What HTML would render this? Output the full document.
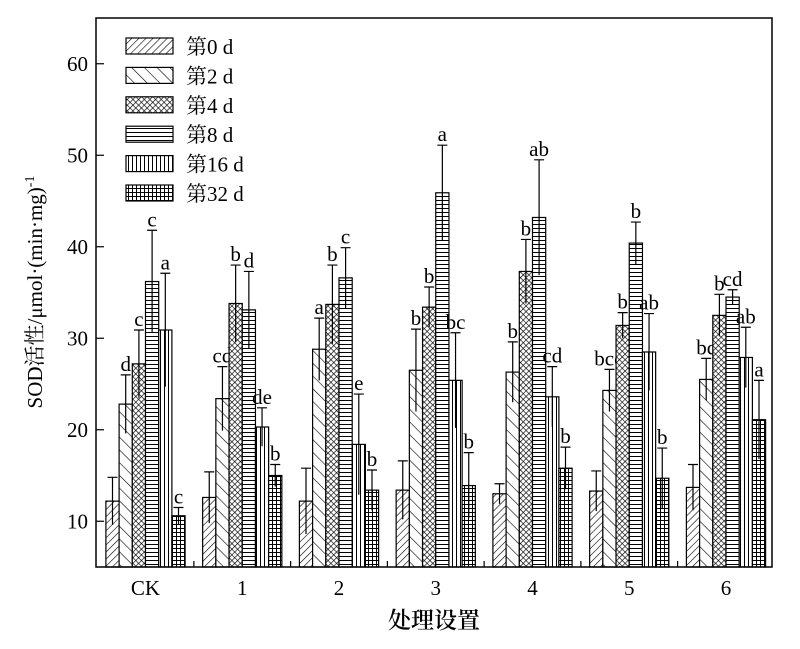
<!DOCTYPE html>
<html><head><meta charset="utf-8"><style>body{margin:0;background:#fff}svg{display:block}text{font-family:"Liberation Serif","Noto Serif CJK SC",serif;fill:#000}</style></head>
<body>
<svg id="c" width="800" height="649" viewBox="0 0 800 649" xmlns="http://www.w3.org/2000/svg">
<defs>
<pattern id="p0" width="5" height="5" patternUnits="userSpaceOnUse" patternTransform="rotate(45)"><rect width="5" height="5" fill="#fff"/><line x1="0" y1="0" x2="0" y2="5" stroke="#000" stroke-width="1.2"/></pattern>
<pattern id="p1" width="9" height="9" patternUnits="userSpaceOnUse" patternTransform="rotate(-45)"><rect width="9" height="9" fill="#fff"/><line x1="0" y1="0" x2="0" y2="9" stroke="#000" stroke-width="1.2"/></pattern>
<pattern id="p2" width="4" height="4" patternUnits="userSpaceOnUse" patternTransform="rotate(45)"><rect width="4" height="4" fill="#fff"/><line x1="0" y1="0" x2="0" y2="4" stroke="#000" stroke-width="1.3"/><line x1="0" y1="0" x2="4" y2="0" stroke="#000" stroke-width="1.3"/></pattern>
<pattern id="p3" width="4" height="4" patternUnits="userSpaceOnUse"><rect width="4" height="4" fill="#fff"/><line x1="0" y1="0.5" x2="4" y2="0.5" stroke="#000" stroke-width="1"/></pattern>
<pattern id="p4" width="4" height="4" patternUnits="userSpaceOnUse"><rect width="4" height="4" fill="#fff"/><line x1="0.5" y1="0" x2="0.5" y2="4" stroke="#000" stroke-width="1"/></pattern>
<pattern id="p5" width="4" height="4" patternUnits="userSpaceOnUse"><rect width="4" height="4" fill="#fff"/><line x1="0.5" y1="0" x2="0.5" y2="4" stroke="#000" stroke-width="1"/><line x1="0" y1="0.5" x2="4" y2="0.5" stroke="#000" stroke-width="1"/></pattern>
</defs>
<g id="g"></g>
</svg>
<script>
const categories=["CK","1","2","3","4","5","6"];
const seriesNames=["第0 d","第2 d","第4 d","第8 d","第16 d","第32 d"];
const d0=[12.2,12.6,12.2,13.4,13.0,13.3,13.7];
const d2=[22.8,23.4,28.8,26.5,26.3,24.3,25.5];
const d4=[27.2,33.8,33.7,33.4,37.3,31.4,32.5];
const d8=[36.2,33.1,36.6,45.9,43.2,40.4,34.5];
const d16=[30.9,20.3,18.4,25.4,23.6,28.5,27.9];
const d32=[10.6,15.0,13.4,13.9,15.8,14.7,21.1];
const e0=[2.6,2.8,3.6,3.2,1.1,2.2,2.5];
const e2=[3.2,3.5,3.4,4.5,3.3,2.3,2.3];
const e4=[3.7,4.2,4.3,2.2,3.5,1.4,2.3];
const e8=[5.6,4.2,3.3,5.2,6.3,2.3,0.8];
const e16=[6.2,2.1,5.5,5.2,3.3,4.2,3.3];
const e32=[0.9,1.2,2.2,3.6,2.3,3.3,4.3];
const l2=["d","cd","a","b","b","bcd","bc"];
const l4=["c","b","b","b","b","b","b"];
const l8=["c","d","c","a","ab","b","cd"];
const l16=["a","de","e","bc","cd","ab","ab"];
const l32=["c","b","b","b","b","b","a"];
const yTicks=[10,20,30,40,50,60];
const vals=[d0,d2,d4,d8,d16,d32], errs=[e0,e2,e4,e8,e16,e32], labs=[null,l2,l4,l8,l16,l32];
const NS="http://www.w3.org/2000/svg", g=document.getElementById('g');
const L=96,R=772,T=18,B=567,ymin=5,ymax=65;
const y=v=>B-(v-ymin)/(ymax-ymin)*(B-T);
const bw=13.2, gx=i=>145.5+i*96.75;
function mk(t,a,p){const e=document.createElementNS(NS,t);for(const k in a)e.setAttribute(k,a[k]);(p||g).appendChild(e);return e;}
categories.forEach((c,i)=>{
  const x0=gx(i)-bw*3;
  vals.forEach((s,j)=>{
    const x=x0+j*bw,v=s[i],er=errs[j][i];
    const r=mk('rect',{x:x,y:y(v),width:bw,height:B-y(v),fill:`url(#p${j})`,stroke:'#000','stroke-width':1.2});
    
    
    const cx=x+bw/2;
    const eb=mk('path',{d:`M${cx},${y(v-er)}V${y(v+er)}M${cx-5},${y(v+er)}H${cx+5}`,stroke:'#000','stroke-width':1.2,fill:'none'});
    
    
    if(labs[j]){const t=mk('text',{x:cx,y:y(v+er)-4,'text-anchor':'middle','font-size':21});t.textContent=labs[j][i];
      
      }
  });
  const t=mk('text',{x:gx(i),y:595,'text-anchor':'middle','font-size':21});t.textContent=c;
  
  
  if(i<categories.length-1){const tk=mk('line',{x1:(gx(i)+gx(i+1))/2,x2:(gx(i)+gx(i+1))/2,y1:B,y2:B-6,stroke:'#000','stroke-width':1.2});
    
    }
});
yTicks.forEach(v=>{
  const tk=mk('line',{x1:L,x2:L+8,y1:y(v),y2:y(v),stroke:'#000','stroke-width':1.2});
  
  
  const t=mk('text',{x:L-8,y:y(v)+7,'text-anchor':'end','font-size':21});t.textContent=v;
  
  
});
const fr=mk('rect',{x:L,y:T,width:R-L,height:B-T,fill:'none',stroke:'#000','stroke-width':1.5});


seriesNames.forEach((n,j)=>{
  const yy=38+j*29.4;
  const r=mk('rect',{x:126,y:yy,width:47,height:16,fill:`url(#p${j})`,stroke:'#000','stroke-width':1.2});
  
  
  const t=mk('text',{x:186,y:yy+16,'font-size':21});t.textContent=n;
  
  
});
const xt=mk('text',{x:434,y:628,'text-anchor':'middle','font-size':23,'font-weight':600});xt.textContent="处理设置";


const yt=mk('text',{x:0,y:0,'text-anchor':'middle','font-size':21,transform:'translate(42,292) rotate(-90)'});
yt.innerHTML='SOD活性/μmol·(min·mg)<tspan dy="-8" font-size="14">-1</tspan>';


</script>
</body></html>
